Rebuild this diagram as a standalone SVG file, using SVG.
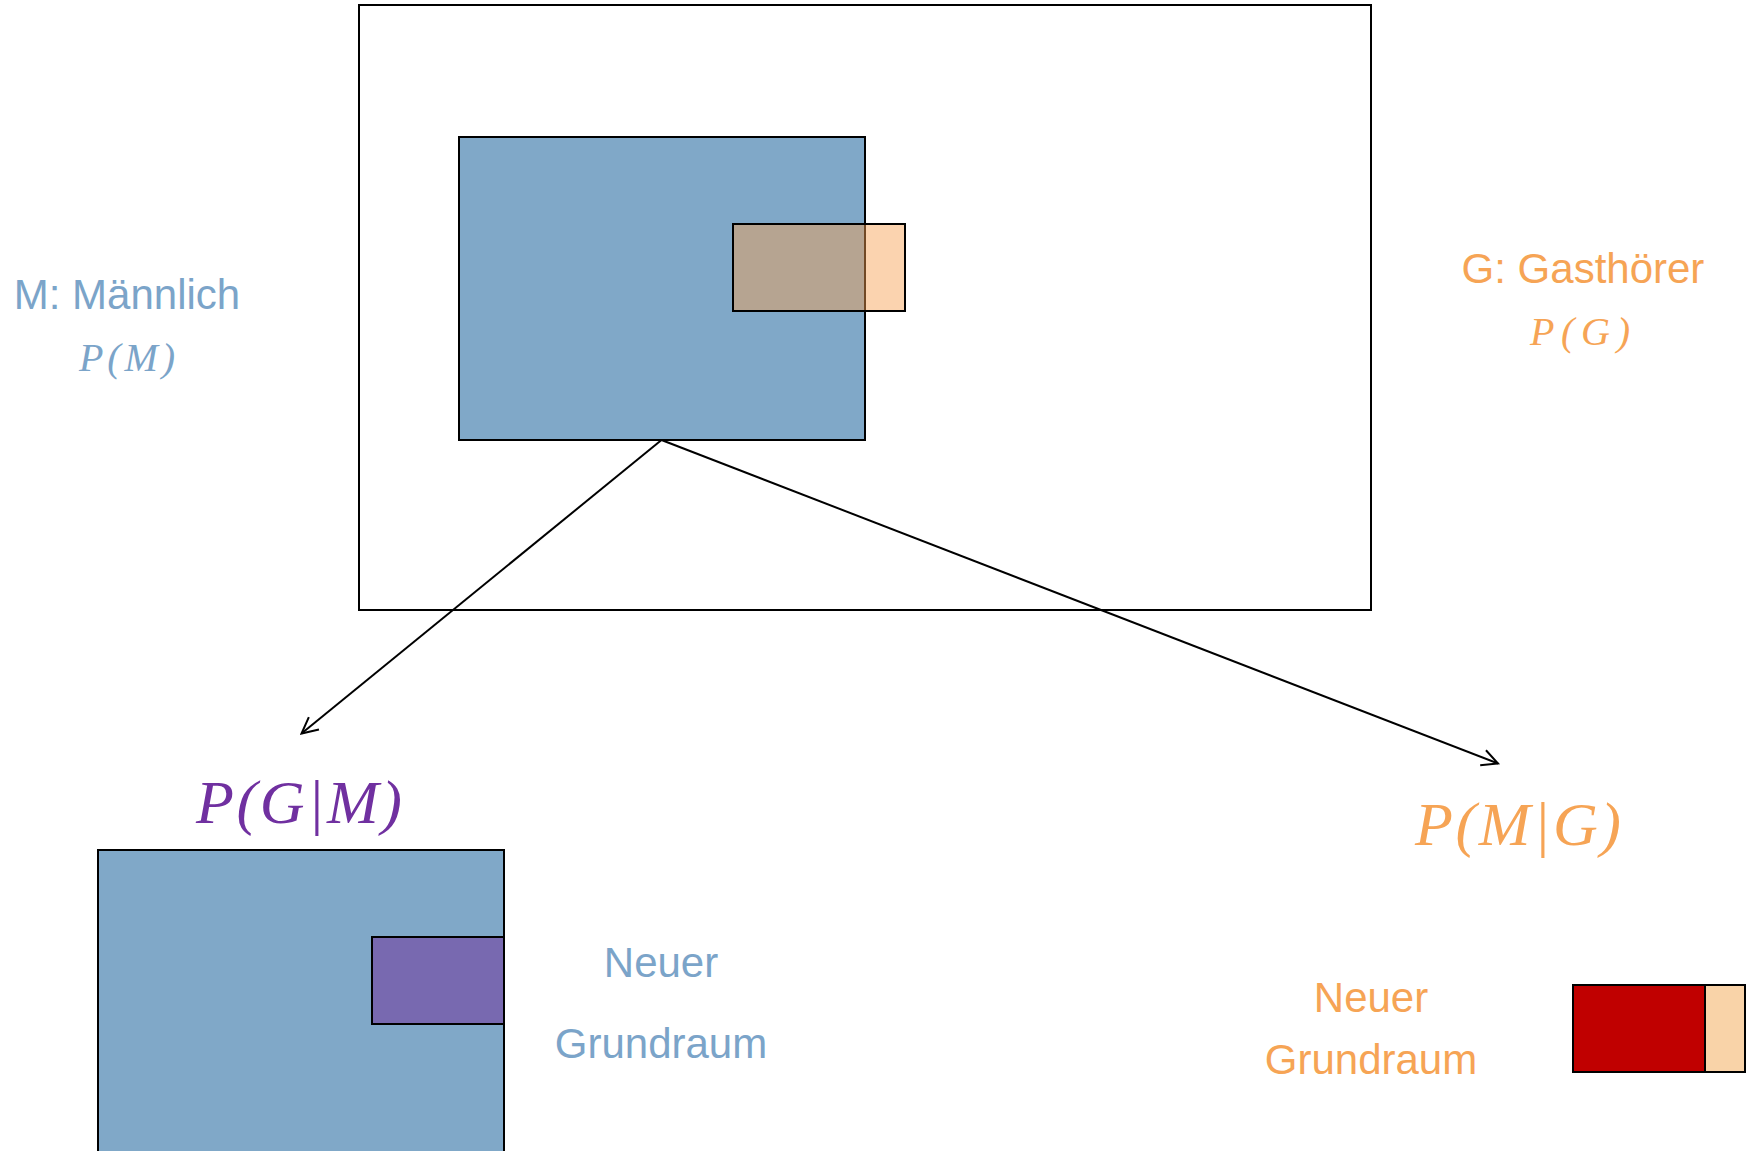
<svg xmlns="http://www.w3.org/2000/svg" width="1752" height="1151" viewBox="0 0 1752 1151">
<style>
.box{stroke:#000;stroke-width:2}
.lbl{font-family:"Liberation Sans",Arial,sans-serif;font-size:42px;text-anchor:middle}
.math{font-family:"Liberation Serif","Times New Roman",serif;font-style:italic;text-anchor:middle}
.blue{fill:#7BA4C9}
.orange{fill:#F6A455}
.con{stroke:#000;stroke-width:2;fill:none}
</style>
<defs>
<marker id="arr" viewBox="0 0 20 20" refX="18" refY="10" markerWidth="20" markerHeight="20" markerUnits="userSpaceOnUse" orient="auto">
<path d="M2,2 L18,10 L2,18" fill="none" stroke="#000" stroke-width="2"/>
</marker>
</defs>
<rect width="1752" height="1151" fill="#fff"/>
<g id="grundraum"><rect class="box" x="359" y="5" width="1012" height="605" fill="#fff"/></g>
<g id="M"><rect class="box" x="459" y="137" width="406" height="303" fill="#80A8C8"/></g>
<g id="G"><rect class="box" x="733" y="224" width="172" height="87" fill="#F7A050" fill-opacity="0.46"/></g>
<g id="label-M">
<text class="lbl blue" x="127" y="309">M: Männlich</text>
<text class="math blue" x="127" y="371" font-size="40" textLength="96" lengthAdjust="spacing">P(M)</text>
</g>
<g id="label-G">
<text class="lbl orange" x="1583" y="283">G: Gasthörer</text>
<text class="math orange" x="1580" y="345" font-size="40" textLength="100" lengthAdjust="spacing">P(G)</text>
</g>
<g id="connectors">
<line class="con" x1="661.5" y1="440" x2="301.5" y2="733.5" marker-end="url(#arr)"/>
<line class="con" x1="661.5" y1="440" x2="1498" y2="763.5" marker-end="url(#arr)"/>
</g>
<g id="GgivenM">
<text class="math" x="299" y="823" font-size="62" fill="#7030A0" textLength="206" lengthAdjust="spacing">P(G|M)</text>
<rect class="box" x="98" y="850" width="406" height="320" fill="#80A8C8"/>
<rect class="box" x="372" y="937" width="132" height="87" fill="#7869B0"/>
<text class="lbl blue" x="661" y="977">Neuer</text>
<text class="lbl blue" x="661" y="1058">Grundraum</text>
</g>
<g id="MgivenG">
<text class="math orange" x="1518" y="845" font-size="62" textLength="206" lengthAdjust="spacing">P(M|G)</text>
<text class="lbl orange" x="1371" y="1012">Neuer</text>
<text class="lbl orange" x="1371" y="1074">Grundraum</text>
<rect class="box" x="1573" y="985" width="132" height="87" fill="#C00000"/>
<rect class="box" x="1705" y="985" width="40" height="87" fill="#F9D3A8"/>
</g>
</svg>
